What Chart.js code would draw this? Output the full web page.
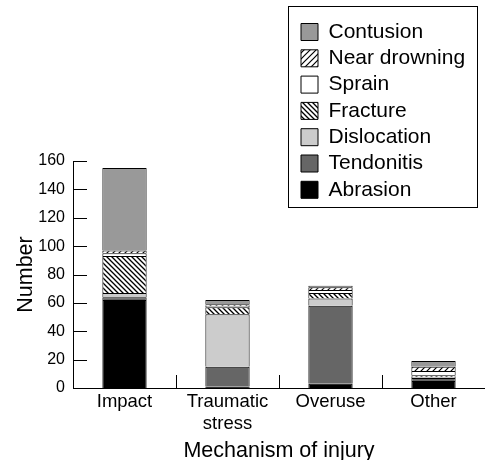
<!DOCTYPE html>
<html><head><meta charset="utf-8">
<script src="https://cdn.jsdelivr.net/npm/chart.js@4"></script>
<style>html,body{margin:0;padding:0;background:#fff}</style>
</head><body>
<canvas id="c" width="485" height="460"></canvas>
<script>
// ---- data ----
const categories = ['Impact', ['Traumatic', 'stress'], 'Overuse', 'Other'];
const abrasion     = [62, 1, 3, 5];
const tendonitis   = [2, 14, 55, 2];
const dislocation  = [3, 37, 5, 1];
const fracture     = [26, 5, 4, 1];
const sprain       = [2, 1, 2, 3];
const nearDrowning = [2, 1, 2, 3];
const contusion    = [58, 3, 1, 4];
const yTicks = [0, 20, 40, 60, 80, 100, 120, 140, 160];
const xTitle = 'Mechanism of injury';
const yTitle = 'Number';

const FONT = "'Liberation Sans', Arial, Helvetica, sans-serif";

function hatch(dir, size, lw) {
  const c = document.createElement('canvas');
  c.width = size; c.height = size;
  const g = c.getContext('2d');
  g.fillStyle = '#fff'; g.fillRect(0, 0, size, size);
  g.strokeStyle = '#000'; g.lineWidth = lw; g.beginPath();
  if (dir === '/') {
    g.moveTo(-1, size + 1); g.lineTo(size + 1, -1);
    g.moveTo(-1, 1); g.lineTo(1, -1);
    g.moveTo(size - 1, size + 1); g.lineTo(size + 1, size - 1);
  } else {
    g.moveTo(-1, -1); g.lineTo(size + 1, size + 1);
    g.moveTo(size - 1, -1); g.lineTo(size + 1, 1);
    g.moveTo(-1, size - 1); g.lineTo(1, size + 1);
  }
  g.stroke();
  return g.createPattern(c, 'repeat');
}
const slashPattern = hatch('/', 6, 1.2);
const backPattern = hatch('\\', 5, 1.3);

const BW = {top: 1, left: 1, right: 1, bottom: 0};
function ds(label, data, bg) {
  return {label, data, backgroundColor: bg, borderColor: '#000', borderWidth: BW,
          borderSkipped: false, barPercentage: 0.43, categoryPercentage: 1.0};
}

const legendPlace = {
  id: 'legendPlace',
  beforeDraw(chart) {
    const lg = chart.legend;
    const w = lg.width, h = 195;
    lg.left = 295.7; lg.top = 16.2; lg.right = lg.left + w; lg.bottom = lg.top + h; lg.height = h;
  }
};

const axisMarks = {
  id: 'axisMarks',
  afterDraw(chart) {
    const {ctx, scales: {x, y}} = chart;
    ctx.save();
    ctx.strokeStyle = '#000'; ctx.lineWidth = 1;
    ctx.beginPath();
    y.ticks.forEach(t => {
      const py = Math.round(y.getPixelForValue(t.value)) + 0.5;
      ctx.moveTo(x.left, py); ctx.lineTo(x.left + 14, py);
    });
    for (let i = 1; i < categories.length; i++) {
      const px = Math.round((x.getPixelForTick(i - 1) + x.getPixelForTick(i)) / 2) + 0.5;
      ctx.moveTo(px, y.bottom); ctx.lineTo(px, y.bottom - 13);
    }
    ctx.stroke();
    const lg = chart.legend;
    ctx.strokeRect(Math.round(lg.left - 8) + 0.5, Math.round(lg.top - 10) + 0.5, 189, 201);
    ctx.restore();
  }
};

new Chart(document.getElementById('c'), {
  type: 'bar',
  data: {
    labels: categories,
    datasets: [
      ds('Abrasion', abrasion, '#000000'),
      ds('Tendonitis', tendonitis, '#666666'),
      ds('Dislocation', dislocation, '#cccccc'),
      ds('Fracture', fracture, backPattern),
      ds('Sprain', sprain, '#ffffff'),
      ds('Near drowning', nearDrowning, slashPattern),
      ds('Contusion', contusion, '#999999')
    ]
  },
  options: {
    responsive: false,
    animation: false,
    layout: {padding: {top: 161, left: 0, right: 0, bottom: 0}},
    plugins: {
      tooltip: {enabled: false},
      legend: {
        position: 'chartArea',
        align: 'start',
        reverse: true,
        labels: {
          color: '#000',
          font: {family: FONT, size: 21},
          boxWidth: 17, boxHeight: 17, padding: 5.3,
          generateLabels(chart) {
            return Chart.defaults.plugins.legend.labels.generateLabels(chart)
              .map(l => Object.assign(l, {lineWidth: 1, strokeStyle: '#000'}));
          }
        }
      }
    },
    scales: {
      x: {
        stacked: true,
        grid: {display: false, drawTicks: false},
        border: {display: true, color: '#000', width: 1},
        ticks: {color: '#000', font: {family: FONT, size: 18.5}, padding: 3, maxRotation: 0, autoSkip: false},
        title: {display: true, text: xTitle, color: '#000', font: {family: FONT, size: 21.5}, padding: {top: 0, bottom: -4}},
        afterFit(s) { s.height = 72; }
      },
      y: {
        stacked: true, min: 0, max: 160,
        afterBuildTicks(s) { s.ticks = yTicks.map(v => ({value: v})); },
        grid: {display: false, drawTicks: false},
        border: {display: true, color: '#000', width: 1},
        ticks: {color: '#000', font: {family: FONT, size: 16}, padding: 8},
        title: {display: true, text: yTitle, color: '#000', font: {family: FONT, size: 21.5}, padding: {top: 13, bottom: 0}},
        afterFit(s) { s.width = 73; }
      }
    }
  },
  plugins: [legendPlace, axisMarks]
});
</script>
</body></html>
